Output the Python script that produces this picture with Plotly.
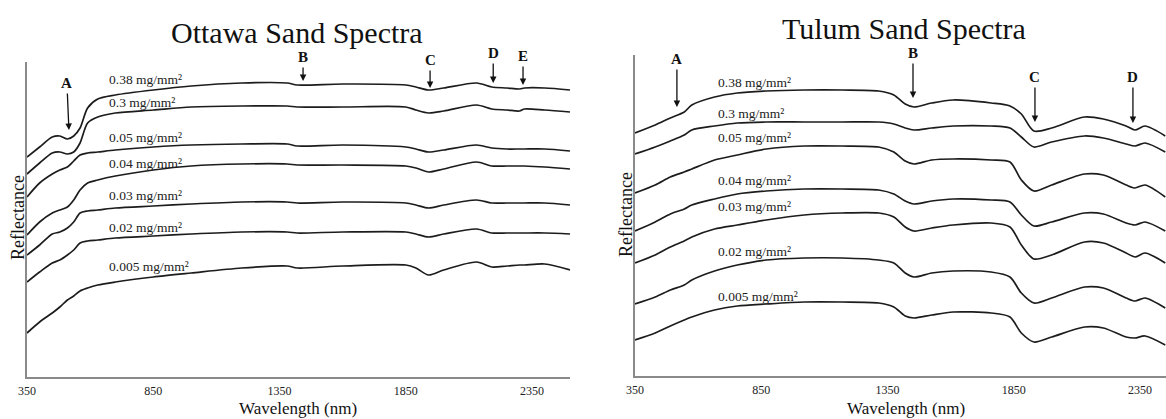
import plotly.graph_objects as go

# ---------------- data (arbitrary reflectance units) -------------
loadings = ["0.38 mg/mm²", "0.3 mg/mm²", "0.05 mg/mm²", "0.04 mg/mm²",
            "0.03 mg/mm²", "0.02 mg/mm²", "0.005 mg/mm²"]

ottawa_wl = [350, 400, 450, 480, 510, 535, 560, 590, 630, 700, 850, 1000, 1200, 1380,
             1420, 1600, 1850, 1890, 1940, 2000, 2130, 2190, 2250, 2300, 2320, 2400, 2500]
ottawa_038 = [220, 230, 240, 241, 238, 241, 249, 269, 278, 282, 287, 291, 294, 294,
              292, 293, 292, 290, 287, 289, 294, 290, 289, 288, 289, 289, 287]
ottawa_03 = [203, 214, 224, 225, 223, 225, 234, 254, 260, 264, 267, 270, 271, 271,
             270, 270, 270, 267, 264, 266, 272, 268, 267, 266, 268, 267, 265]
ottawa_005 = [180, 194, 203, 207, 210, 216, 222, 224, 225, 227, 230, 232, 233, 233,
              231, 232, 230, 228, 225, 227, 232, 229, 228, 228, 228, 228, 226]
ottawa_004 = [142, 155, 164, 167, 170, 177, 187, 194, 197, 201, 207, 211, 213, 213,
              212, 212, 211, 209, 205, 208, 215, 211, 211, 211, 211, 210, 208]
ottawa_003 = [122, 132, 143, 145, 149, 155, 164, 166, 167, 169, 171, 173, 175, 175,
              174, 175, 174, 172, 169, 172, 177, 174, 174, 174, 174, 174, 172]
ottawa_002 = [95, 105, 114, 117, 122, 127, 134, 136, 137, 139, 141, 143, 145, 145,
              144, 145, 145, 143, 140, 143, 148, 144, 144, 144, 144, 144, 143]
ottawa_0005 = [44, 55, 64, 70, 77, 81, 86, 89, 92, 95, 100, 104, 109, 111,
               109, 111, 112, 109, 102, 107, 115, 110, 111, 112, 112, 113, 107]

tulum_wl = [350, 430, 490, 545, 575, 665, 755, 870, 1020, 1170, 1315, 1375, 1420, 1455,
            1525, 1610, 1760, 1835, 1880, 1930, 2000, 2130, 2205, 2295, 2330, 2370, 2450]
tulum_038 = [243, 251, 258, 264, 271, 279, 283, 285, 286, 286, 285, 281, 272, 269,
             273, 276, 273, 270, 262, 245, 248, 259, 257, 250, 246, 250, 240]
tulum_03 = [222, 229, 235, 241, 246, 250, 253, 254, 254, 254, 254, 252, 248, 246,
            248, 250, 250, 248, 239, 229, 234, 240, 238, 232, 230, 233, 224]
tulum_005 = [183, 191, 199, 204, 207, 216, 221, 227, 230, 230, 229, 224, 215, 212,
             216, 217, 216, 214, 196, 185, 191, 202, 201, 191, 188, 191, 179]
tulum_004 = [145, 154, 162, 167, 171, 177, 182, 185, 187, 187, 186, 182, 175, 172,
             175, 177, 176, 174, 161, 150, 154, 163, 162, 153, 151, 154, 145]
tulum_003 = [113, 121, 129, 135, 139, 147, 151, 156, 161, 163, 163, 159, 149, 145,
             148, 151, 153, 149, 131, 117, 121, 134, 133, 123, 119, 123, 113]
tulum_002 = [72, 79, 86, 91, 96, 105, 111, 116, 118, 118, 116, 113, 103, 99,
             103, 105, 104, 99, 83, 73, 78, 89, 88, 78, 75, 78, 68]
tulum_0005 = [36, 43, 50, 56, 59, 66, 70, 72, 74, 74, 73, 69, 60, 58,
              61, 64, 63, 59, 43, 34, 39, 49, 48, 39, 38, 40, 31]

# label anchor (wavelength, reflectance) for each curve label
ottawa_label_wl = 667
ottawa_label_y = [297, 274, 240, 214, 182, 150, 111]
tulum_label_wl = 671
tulum_label_y = [293, 262, 238, 195, 169, 124, 80]

# absorption feature markers: letter, wavelength, reflectance at arrow tip, arrow offsets (px)
ottawa_features = [("A", 516, 247, -47, -2), ("B", 1443, 296, -24, 0), ("C", 1946, 289, -28, 0),
                   ("D", 2196, 294, -30, 0), ("E", 2314, 292, -29, 0)]
tulum_features = [("A", 516, 269, -48, 0), ("B", 1451, 278, -45, 0),
                  ("C", 1934, 254, -45, 0), ("D", 2322, 253, -46, 0)]

tick_vals = [350, 850, 1350, 1850, 2350]

ottawa_series = [ottawa_038, ottawa_03, ottawa_005, ottawa_004, ottawa_003, ottawa_002, ottawa_0005]
tulum_series = [tulum_038, tulum_03, tulum_005, tulum_004, tulum_003, tulum_002, tulum_0005]

# ---------------- figure ----------------
SERIF = "Liberation Serif, Georgia, serif"
LINE = "#1c1c1c"
AXIS = "#8a8a8a"

fig = go.Figure()
for ys in ottawa_series:
    fig.add_trace(go.Scatter(x=ottawa_wl, y=ys, mode="lines", xaxis="x", yaxis="y",
                             line=dict(color=LINE, width=1.7, shape="spline", smoothing=0.8),
                             hoverinfo="skip", showlegend=False))
for ys in tulum_series:
    fig.add_trace(go.Scatter(x=tulum_wl, y=ys, mode="lines", xaxis="x2", yaxis="y2",
                             line=dict(color=LINE, width=1.7, shape="spline", smoothing=0.8),
                             hoverinfo="skip", showlegend=False))

W, H = 1166, 419
axis_common = dict(showgrid=False, zeroline=False, showline=True, linecolor=AXIS, linewidth=1.5,
                   ticks="", fixedrange=True, automargin=False)
tickfont = dict(family=SERIF, size=12, color="#222")
fig.update_layout(
    width=W, height=H, margin=dict(l=0, r=0, t=0, b=0, pad=0, autoexpand=False),
    paper_bgcolor="white", plot_bgcolor="white", showlegend=False,
    xaxis=dict(domain=[27 / W, 570 / W], range=[350, 2500], tickvals=tick_vals,
               tickfont=tickfont, ticklabelstandoff=2, anchor="y", **axis_common),
    yaxis=dict(domain=[(H - 377) / H, (H - 62) / H], range=[0, 315], showticklabels=False,
               anchor="x", **axis_common),
    xaxis2=dict(domain=[635 / W, 1.0], range=[350, 350 + 531 / 0.2525], tickvals=tick_vals,
                tickfont=tickfont, ticklabelstandoff=2, anchor="y2", **axis_common),
    yaxis2=dict(domain=[(H - 376) / H, (H - 55) / H], range=[0, 321], showticklabels=False,
                anchor="x2", **axis_common),
)

ann = []
# titles
ann.append(dict(text="Ottawa Sand Spectra", x=297 / W, y=(H - 33) / H, xref="paper", yref="paper",
                showarrow=False, font=dict(family=SERIF, size=30, color="#111"),
                xanchor="center", yanchor="middle"))
ann.append(dict(text="Tulum Sand Spectra", x=904 / W, y=(H - 28) / H, xref="paper", yref="paper",
                showarrow=False, font=dict(family=SERIF, size=30, color="#111"),
                xanchor="center", yanchor="middle"))
# axis titles
for cx in (298, 906):
    ann.append(dict(text="Wavelength (nm)", x=cx / W, y=(H - 408) / H, xref="paper", yref="paper",
                    showarrow=False, borderpad=0, font=dict(family=SERIF, size=17, color="#111"),
                    xanchor="center", yanchor="middle"))
for cx, cy in ((18, 218), (626, 215)):
    ann.append(dict(text="Reflectance", x=cx / W, y=(H - cy) / H, xref="paper", yref="paper",
                    showarrow=False, textangle=-90, font=dict(family=SERIF, size=18, color="#111"),
                    xanchor="center", yanchor="middle"))
# curve labels
for lab, yv in zip(loadings, ottawa_label_y):
    ann.append(dict(text=lab, x=ottawa_label_wl, y=yv, xref="x", yref="y", showarrow=False,
                    xanchor="left", yanchor="middle", font=dict(family=SERIF, size=13.5, color="#222")))
for lab, yv in zip(loadings, tulum_label_y):
    ann.append(dict(text=lab, x=tulum_label_wl, y=yv, xref="x2", yref="y2", showarrow=False,
                    xanchor="left", yanchor="middle", font=dict(family=SERIF, size=13.5, color="#222")))
# feature arrows
for (letter, wl, yv, ay, ax), xr, yr in [(f, "x", "y") for f in ottawa_features] + \
                                        [(f, "x2", "y2") for f in tulum_features]:
    ann.append(dict(text="<b>%s</b>" % letter, x=wl, y=yv, xref=xr, yref=yr, showarrow=True,
                    ax=ax, ay=ay, arrowhead=2, arrowsize=1.0, arrowwidth=1.3, arrowcolor="#111",
                    standoff=0, startstandoff=1,
                    font=dict(family=SERIF, size=15, color="#111")))
fig.update_layout(annotations=ann)

fig.write_html("out.html")
